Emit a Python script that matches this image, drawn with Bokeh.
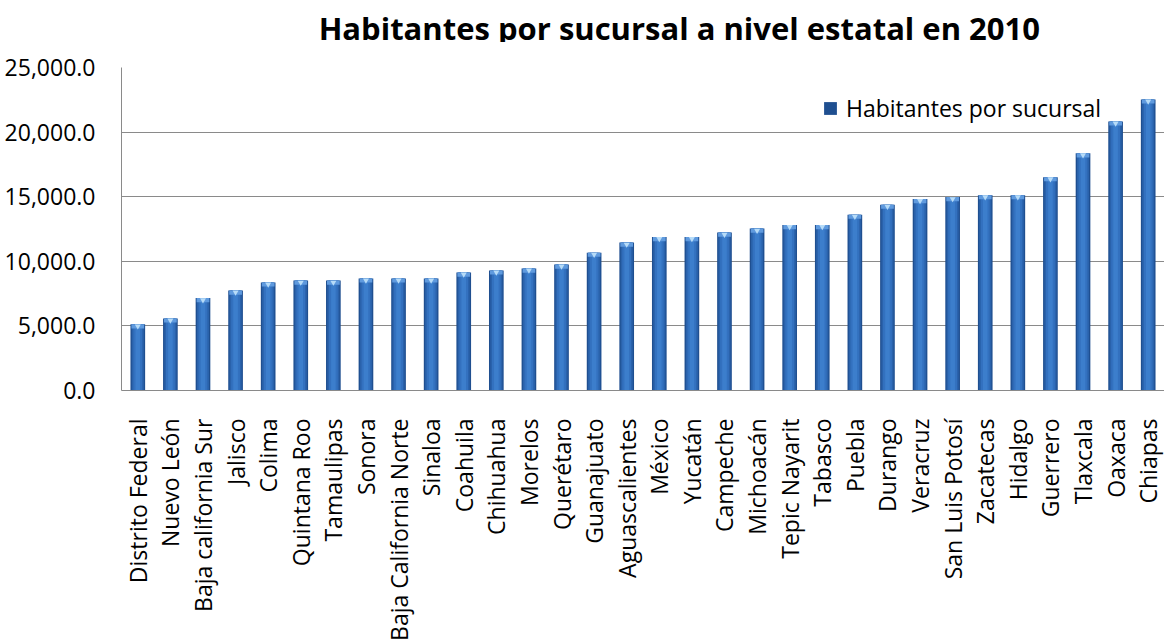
from bokeh.plotting import figure
from bokeh.models import (FactorRange, NumeralTickFormatter, SingleIntervalTicker, Legend, LegendItem,
                          ColumnDataSource, Range1d, Plot, Text)
from bokeh.layouts import column
from bokeh.core.properties import value
from bokeh.embed import file_html
from bokeh.resources import INLINE
import math

estados = ["Distrito Federal", "Nuevo León", "Baja california Sur", "Jalisco", "Colima",
           "Quintana Roo", "Tamaulipas", "Sonora", "Baja California Norte", "Sinaloa",
           "Coahuila", "Chihuahua", "Morelos", "Querétaro", "Guanajuato",
           "Aguascalientes", "México", "Yucatán", "Campeche", "Michoacán",
           "Tepic Nayarit", "Tabasco", "Puebla", "Durango", "Veracruz",
           "San Luis Potosí", "Zacatecas", "Hidalgo", "Guerrero", "Tlaxcala",
           "Oaxaca", "Chiapas"]
habitantes = [5120, 5580, 7150, 7740, 8360, 8510, 8510, 8670, 8670, 8670,
              9130, 9290, 9440, 9750, 10670, 11450, 11880, 11880, 12220, 12530,
              12810, 12810, 13610, 14380, 14820, 14970, 15120, 15120, 16510, 18360,
              20830, 22530]
y_ticks_interval = 5000
y_max = 25000
serie = "Habitantes por sucursal"
titulo = "Habitantes por sucursal a nivel estatal en 2010"

FONT = "Open Sans"
GRID = "#8a8a8a"
W = 1164
TITLE_H = 42

# ---- title strip: a bare plot whose frame is the whole strip (pixel coordinates) ----
tfig = Plot(width=W, height=TITLE_H, x_range=Range1d(0, W), y_range=Range1d(0, TITLE_H),
            output_backend="svg", toolbar_location=None, min_border=0,
            outline_line_color=None, background_fill_color="white", border_fill_color="white")
tsrc = ColumnDataSource(dict(x=[220], y=[TITLE_H - 27], t=[titulo]))
tfig.add_glyph(tsrc, Text(x="x", y="y", text="t", text_font=value(FONT),
                          text_font_size="31px", text_font_style="bold", text_color="#000000",
                          text_baseline="alphabetic", text_align="left"))

# ---- chart ----
src = ColumnDataSource(dict(
    x=estados, top=habitantes,
    cap=[v - 320 for v in habitantes],
    tri=[v - 140 for v in habitantes],
))

p = figure(x_range=FactorRange(*estados), y_range=(0, y_max),
           width=W, height=643 - TITLE_H, output_backend="svg", toolbar_location=None,
           min_border_left=121, min_border_right=0, min_border_top=67 - TITLE_H, min_border_bottom=252)

# bars with a simple layered shading
base = p.vbar(x="x", top="top", width=0.45, source=src, fill_color="#1f4f90", line_color=None)
p.vbar(x="x", top="top", width=0.37, source=src, fill_color="#2a62ab", line_color=None)
p.vbar(x="x", top="top", width=0.27, source=src, fill_color="#3371bf", line_color=None)
p.vbar(x="x", top="top", width=0.14, source=src, fill_color="#3c7ecc", line_color=None)
p.vbar(x="x", top="top", bottom="cap", width=0.39, source=src, fill_color="#5f9ade", line_color=None)
p.scatter(x="x", y="tri", source=src, marker="inverted_triangle", size=6,
          fill_color="#b7dcf8", line_color=None)

legend = Legend(items=[LegendItem(label=serie, renderers=[base])],
                location=(701, 266), orientation="vertical")
legend.label_text_font = FONT
legend.label_text_font_size = "23px"
legend.label_text_color = "#000000"
legend.glyph_width = 16
legend.glyph_height = 16
legend.label_standoff = 8
legend.padding = 0
legend.margin = 0
legend.border_line_color = None
legend.background_fill_alpha = 0
p.add_layout(legend, "center")

p.yaxis.ticker = SingleIntervalTicker(interval=y_ticks_interval)
p.yaxis.formatter = NumeralTickFormatter(format="0,0.0")
p.yaxis.major_label_text_font = FONT
p.yaxis.major_label_text_font_size = "23px"
p.yaxis.major_label_text_color = "#000000"
p.yaxis.major_tick_line_color = None
p.yaxis.minor_tick_line_color = None
p.yaxis.major_tick_out = 0
p.yaxis.major_tick_in = 0
p.yaxis.minor_tick_out = 0
p.yaxis.major_label_standoff = 26
p.yaxis.axis_line_color = GRID

p.xaxis.major_label_orientation = math.pi / 2
p.xaxis.major_label_text_font = FONT
p.xaxis.major_label_text_font_size = "23px"
p.xaxis.major_label_text_color = "#000000"
p.xaxis.major_tick_line_color = None
p.xaxis.major_tick_out = 0
p.xaxis.major_tick_in = 0
p.xaxis.major_label_standoff = 28
p.xaxis.axis_line_color = GRID

p.xgrid.grid_line_color = None
p.ygrid.grid_line_color = GRID
p.ygrid.grid_line_width = 1
p.outline_line_color = None
p.background_fill_color = "white"
p.border_fill_color = "white"

layout = column(tfig, p, spacing=0)
open("out.html", "w").write(file_html(layout, INLINE))
